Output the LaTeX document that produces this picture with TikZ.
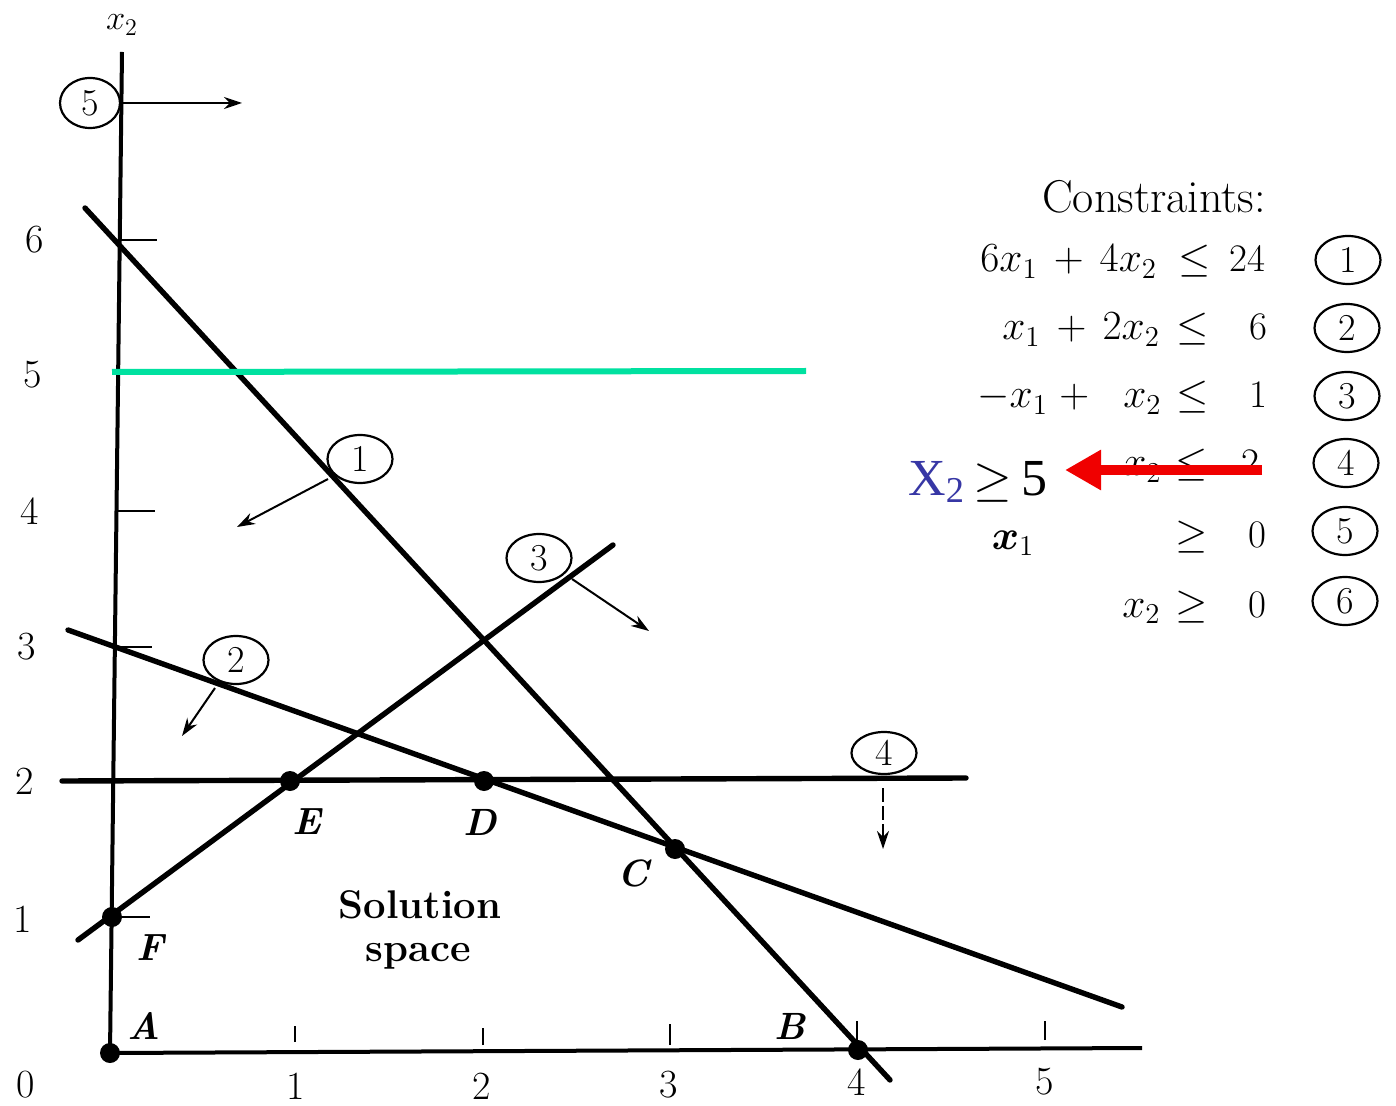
\documentclass[tikz,border=0pt]{standalone}
\usepackage{fontspec}
\usepackage{bm}
\newfontfamily\timesf{Liberation Serif}
\usetikzlibrary{arrows.meta,shapes.geometric}
\definecolor{greenln}{RGB}{0,225,160}
\definecolor{xblue}{RGB}{55,55,165}
\definecolor{redarr}{RGB}{240,0,0}
\begin{document}
\begin{tikzpicture}[x=0.5pt,y=-0.5pt,
  mainln/.style={line width=2.7pt, line cap=round},
  axisln/.style={line width=2pt},
  tickln/.style={line width=1.3pt},
  thinarr/.style={line width=1pt, -{Stealth[length=9pt,width=6pt]}},
  numc/.style={draw, ellipse, line width=1.1pt, minimum width=32.5pt, minimum height=24pt, inner sep=0pt, font=\fontsize{19}{19}\selectfont},
  dotn/.style={circle, fill, inner sep=0pt, minimum size=10pt},
  ptlab/.style={font=\fontsize{19}{19}\selectfont\bfseries\itshape, inner sep=0pt},
  axlab/.style={font=\fontsize{20}{20}\selectfont, inner sep=0pt},
  rowtxt/.style={font=\fontsize{19.5}{19.5}\selectfont, inner sep=0pt},
  redarrow/.style={redarr, line width=5pt, -{Triangle[length=18pt,width=19pt]}}]
\useasboundingbox (0,0) rectangle (1396,1106);
\fill[white] (0,0) rectangle (1396,1106);

% axes
\coordinate (O) at (110,1053);
\coordinate (ytop) at (122,52);
\coordinate (xend) at (1142,1048);
\draw[axisln] (O) -- (ytop);
\draw[axisln] (O) -- (xend);
\node[font=\fontsize{17}{17}\selectfont, inner sep=0pt] (x2lab) at (122,25) {$x_2$};

% y ticks
\coordinate (ty6a) at (120,240); \coordinate (ty6b) at (157,240);
\coordinate (ty5a) at (117,372); \coordinate (ty5b) at (157,372);
\coordinate (ty4a) at (118,511); \coordinate (ty4b) at (155,511);
\coordinate (ty3a) at (116,647); \coordinate (ty3b) at (152,647);
\coordinate (ty1a) at (112,917); \coordinate (ty1b) at (150,917);
\draw[tickln] (ty6a) -- (ty6b);
\draw[tickln] (ty5a) -- (ty5b);
\draw[tickln] (ty4a) -- (ty4b);
\draw[tickln] (ty3a) -- (ty3b);
\draw[tickln] (ty1a) -- (ty1b);
% x ticks
\coordinate (tx1a) at (295,1042); \coordinate (tx1b) at (295,1026);
\coordinate (tx2a) at (483,1045); \coordinate (tx2b) at (483,1028);
\coordinate (tx3a) at (670,1045); \coordinate (tx3b) at (670,1024);
\coordinate (tx4a) at (857,1045); \coordinate (tx4b) at (857,1021);
\coordinate (tx5a) at (1045,1040); \coordinate (tx5b) at (1045,1021);
\draw[tickln] (tx1a) -- (tx1b);
\draw[tickln] (tx2a) -- (tx2b);
\draw[tickln] (tx3a) -- (tx3b);
\draw[tickln] (tx4a) -- (tx4b);
\draw[tickln] (tx5a) -- (tx5b);

% axis numbers
\node[axlab] (y6) at (35,240) {6};
\node[axlab] (y5) at (33,375) {5};
\node[axlab] (y4) at (30,511) {4};
\node[axlab] (y3) at (27,647) {3};
\node[axlab] (y2) at (25,781) {2};
\node[axlab] (y1) at (23,919) {1};
\node[axlab] (y0) at (26,1085) {0};
\node[axlab] (x1n) at (296,1086) {1};
\node[axlab] (x2n) at (482,1086) {2};
\node[axlab] (x3n) at (669,1085) {3};
\node[axlab] (x4n) at (857,1082) {4};
\node[axlab] (x5n) at (1045,1082) {5};

% constraint lines
\coordinate (l1a) at (85,208);  \coordinate (l1b) at (890,1080);
\coordinate (l2a) at (68,630);  \coordinate (l2b) at (1122,1007);
\coordinate (l3a) at (78,940);  \coordinate (l3b) at (613,545);
\coordinate (l4a) at (62,781);  \coordinate (l4b) at (966,778);
\draw[mainln] (l1a) -- (l1b);
\draw[mainln] (l2a) -- (l2b);
\draw[mainln] (l3a) -- (l3b);
\draw[mainln] (l4a) -- (l4b);

% green line x2 = 5
\coordinate (ga) at (112,372); \coordinate (gb) at (806,371);
\draw[greenln, line width=3pt] (ga) -- (gb);

% circled labels on the graph and direction arrows
\node[numc, minimum width=30pt, minimum height=25pt] (g5) at (90,103) {5};
\coordinate (a5s) at (122,103); \coordinate (a5e) at (242,103);
\draw[thinarr] (a5s) -- (a5e);

\node[numc] (g1) at (360,459) {1};
\coordinate (a1s) at (328,479); \coordinate (a1e) at (237,527);
\draw[thinarr] (a1s) -- (a1e);

\node[numc] (g3) at (539,558) {3};
\coordinate (a3s) at (572,579); \coordinate (a3e) at (649,631);
\draw[thinarr] (a3s) -- (a3e);

\node[numc] (g2) at (236,660) {2};
\coordinate (a2s) at (215,688); \coordinate (a2e) at (182,736);
\draw[thinarr] (a2s) -- (a2e);

\node[numc, minimum height=21pt] (g4) at (884,753) {4};
\coordinate (a4s) at (883,788); \coordinate (a4e) at (883,849);
\draw[thinarr, dashed, dash pattern=on 7pt off 2pt] (a4s) -- (a4e);

% corner points
\node[dotn] (A) at (110,1053) {};
\node[dotn] (B) at (858,1050) {};
\node[dotn] (C) at (675,849) {};
\node[dotn] (D) at (484,781) {};
\node[dotn] (E) at (290,781) {};
\node[dotn] (F) at (112,917) {};
\node[ptlab] (Alab) at (144,1026) {A};
\node[ptlab] (Blab) at (790,1026) {B};
\node[ptlab] (Clab) at (633,873) {C};
\node[ptlab] (Dlab) at (480,822) {D};
\node[ptlab] (Elab) at (307,822) {E};
\node[ptlab] (Flab) at (150,948) {F};

\node[font=\fontsize{20}{20}\selectfont\bfseries, inner sep=0pt] (sol1) at (420,905) {Solution};
\node[font=\fontsize{20}{20}\selectfont\bfseries, inner sep=0pt] (sol2) at (418,956) {space};

% constraints list
\node[font=\fontsize{23}{23}\selectfont, inner sep=0pt, anchor=base] (ctitle) at (1154,213) {Constraints:};

\node[rowtxt, anchor=base west] (r1l) at (980,272) {$6x_1 \,+\, 4x_2$};
\node[rowtxt, anchor=base] (r1m) at (1195,272) {$\leq$};
\node[rowtxt, anchor=base] (r1r) at (1247,272) {24};

\node[rowtxt, anchor=base west] (r2l) at (1002,340) {$x_1 \,+\, 2x_2$};
\node[rowtxt, anchor=base] (r2m) at (1193,340) {$\leq$};
\node[rowtxt, anchor=base] (r2r) at (1258,340) {6};

\node[rowtxt, anchor=base west] (r3l) at (977,408) {$-x_1 \;+$};
\node[rowtxt, anchor=base west] (r3x) at (1123,408) {$x_2$};
\node[rowtxt, anchor=base] (r3m) at (1193,408) {$\leq$};
\node[rowtxt, anchor=base] (r3r) at (1258,408) {1};

\node[rowtxt, anchor=base west] (r4x) at (1123,476) {$x_2$};
\node[rowtxt, anchor=base] (r4m) at (1192,476) {$\leq$};
\node[rowtxt, anchor=base] (r4r) at (1250,476) {2};

\node[rowtxt, anchor=base, font=\fontsize{22}{22}\selectfont] (r5x) at (1013,549) {$\bm{x}_1$};
\node[rowtxt, anchor=base] (r5m) at (1192,547) {$\geq$};
\node[rowtxt, anchor=base] (r5r) at (1257,547) {0};

\node[rowtxt, anchor=base west] (r6x) at (1122,617) {$x_2$};
\node[rowtxt, anchor=base] (r6m) at (1192,617) {$\geq$};
\node[rowtxt, anchor=base] (r6r) at (1257,617) {0};

\node[numc] (c1) at (1348,260) {1};
\node[numc] (c2) at (1347,328) {2};
\node[numc] (c3) at (1347,396) {3};
\node[numc] (c4) at (1346,463) {4};
\node[numc] (c5) at (1345,531) {5};
\node[numc] (c6) at (1345,601) {6};

% new constraint and red arrow
\node[inner sep=0pt, anchor=base west, font=\fontsize{26}{26}\timesf\selectfont] (xnew) at (908,495) {{\color{xblue}X\textsubscript{2}}\,$\geq$\,5};
\coordinate (ra) at (1262,470); \coordinate (rb) at (1065,470);
\draw[redarrow] (ra) -- (rb);
\end{tikzpicture}
\end{document}
